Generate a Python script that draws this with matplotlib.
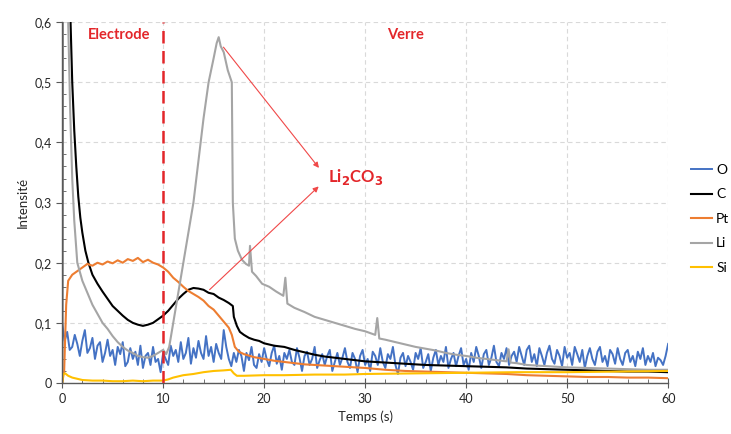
import matplotlib.pyplot as plt
import numpy as np
from matplotlib.ticker import MultipleLocator, FuncFormatter

plt.rcParams['font.family'] = ['Lato', 'DejaVu Sans']

# O : signal bruité, pas de 0,25 s
t_o = np.arange(0, 60.01, 0.25)
o = [0.10, 0.07, 0.085, 0.055, 0.06, 0.08, 0.065, 0.045, 0.07, 0.088, 0.05, 0.058, 0.075, 0.04, 0.062, 0.068, 0.035, 0.05, 0.072, 0.045,
     0.055, 0.03, 0.06, 0.048, 0.068, 0.028, 0.035, 0.058, 0.04, 0.052, 0.03, 0.062, 0.025, 0.045, 0.05, 0.03, 0.06, 0.035, 0.04, 0.018,
     0.05, 0.04, 0.03, 0.062, 0.045, 0.055, 0.035, 0.068, 0.04, 0.05, 0.075, 0.032, 0.058, 0.042, 0.07, 0.05, 0.04, 0.078, 0.045, 0.06,
     0.035, 0.065, 0.05, 0.04, 0.088, 0.06, 0.04, 0.028, 0.05, 0.035, 0.055, 0.045, 0.02, 0.05, 0.038, 0.06, 0.03, 0.025, 0.048, 0.035,
     0.058, 0.04, 0.028, 0.05, 0.062, 0.032, 0.045, 0.022, 0.05, 0.04, 0.055, 0.035, 0.03, 0.058, 0.042, 0.02, 0.045, 0.052, 0.03, 0.04,
     0.06, 0.025, 0.038, 0.048, 0.03, 0.045, 0.055, 0.02, 0.035, 0.05, 0.03, 0.042, 0.058, 0.035, 0.025, 0.05, 0.04, 0.018, 0.045, 0.055,
     0.03, 0.04, 0.02, 0.052, 0.045, 0.03, 0.058, 0.035, 0.025, 0.048, 0.04, 0.06, 0.03, 0.015, 0.042, 0.05, 0.028, 0.045, 0.035, 0.022,
     0.05, 0.04, 0.058, 0.025, 0.035, 0.048, 0.02, 0.042, 0.055, 0.03, 0.045, 0.035, 0.06, 0.025, 0.04, 0.05, 0.028, 0.045, 0.058, 0.03,
     0.04, 0.022, 0.05, 0.035, 0.06, 0.045, 0.025, 0.048, 0.055, 0.03, 0.042, 0.062, 0.035, 0.028, 0.05, 0.04, 0.058, 0.03, 0.045, 0.052,
     0.035, 0.06, 0.045, 0.03, 0.055, 0.062, 0.035, 0.048, 0.028, 0.058, 0.045, 0.03, 0.05, 0.062, 0.04, 0.032, 0.055, 0.045, 0.028, 0.06,
     0.042, 0.05, 0.03, 0.06, 0.048, 0.035, 0.055, 0.025, 0.045, 0.058, 0.04, 0.03, 0.052, 0.06, 0.035, 0.045, 0.028, 0.055, 0.048, 0.032,
     0.058, 0.04, 0.03, 0.05, 0.055, 0.035, 0.045, 0.028, 0.052, 0.04, 0.058, 0.03, 0.045, 0.035, 0.05, 0.028, 0.042, 0.038, 0.03, 0.045,
     0.065]

t_c = [0, 0.1, 0.5, 0.8, 1.0, 1.2, 1.4, 1.6, 1.8, 2.0, 2.3, 2.6, 3.0, 3.5, 4.0, 4.5, 5.0, 5.5, 6.0, 6.5,
       7.0, 7.5, 8.0, 8.5, 9.0, 9.5, 10, 10.5, 11, 11.5, 12, 12.5, 13, 13.5, 14, 14.5, 15, 15.5, 16, 16.5,
       16.9, 17.0, 17.3, 17.6, 18, 18.5, 19, 19.5, 20, 21, 22, 23, 24, 25, 26, 27, 28, 29, 30, 32,
       34, 36, 38, 40, 42, 44, 46, 48, 50, 52, 54, 56, 58, 60]
c = [0, 0.9, 0.8, 0.62, 0.5, 0.42, 0.36, 0.31, 0.275, 0.25, 0.22, 0.2, 0.18, 0.165, 0.152, 0.14, 0.128, 0.12, 0.112, 0.105,
     0.1, 0.097, 0.095, 0.097, 0.1, 0.106, 0.112, 0.12, 0.13, 0.14, 0.148, 0.155, 0.158, 0.157, 0.155, 0.15, 0.148, 0.142, 0.138, 0.133,
     0.128, 0.11, 0.095, 0.085, 0.08, 0.075, 0.072, 0.07, 0.066, 0.062, 0.06, 0.055, 0.051, 0.047, 0.044, 0.042, 0.04, 0.038, 0.036, 0.034,
     0.032, 0.03, 0.029, 0.028, 0.027, 0.026, 0.024, 0.023, 0.022, 0.021, 0.02, 0.019, 0.019, 0.018]

t_pt = [0, 0.2, 0.4, 0.6, 1, 1.5, 2, 2.5, 3, 3.5, 4, 4.5, 5, 5.5, 6, 6.5, 7, 7.5, 8, 8.5,
        9, 9.5, 10, 10.5, 11, 11.5, 12, 12.5, 13, 13.5, 14, 14.5, 15, 15.5, 16, 16.5, 16.8, 17.1, 17.5, 18,
        19, 20, 21, 22, 23, 24, 25, 26, 28, 30, 32, 34, 36, 38, 40, 42, 44, 46, 48, 50,
        52, 54, 56, 58, 60]
pt = [0, 0.02, 0.13, 0.17, 0.18, 0.186, 0.192, 0.198, 0.195, 0.2, 0.197, 0.202, 0.199, 0.204, 0.2, 0.206, 0.203, 0.208, 0.201, 0.205,
      0.2, 0.197, 0.192, 0.185, 0.175, 0.168, 0.16, 0.153, 0.148, 0.143, 0.137, 0.128, 0.122, 0.112, 0.102, 0.092, 0.08, 0.06, 0.052, 0.048,
      0.043, 0.04, 0.037, 0.035, 0.033, 0.031, 0.03, 0.029, 0.027, 0.025, 0.022, 0.02, 0.019, 0.018, 0.017, 0.016, 0.015, 0.013, 0.012, 0.011,
      0.01, 0.01, 0.009, 0.009, 0.008]

t_li = [0, 0.1, 0.4, 0.6, 0.8, 1.0, 1.2, 1.5, 2.0, 2.5, 3.0, 3.5, 4.0, 4.5, 5.0, 5.5, 6, 6.5, 7, 7.5,
        8, 8.5, 9, 9.5, 10, 10.3, 10.6, 11, 11.5, 12, 12.5, 13, 13.5, 14, 14.5, 15, 15.3, 15.5, 15.7, 16,
        16.4, 16.8, 16.9, 17.1, 17.4, 17.8, 18.2, 18.5, 18.6, 18.8, 19.2, 19.8, 20.5, 21.2, 21.9, 22.1, 22.3, 23, 24, 25,
        26, 27, 28, 29, 30, 31, 31.2, 31.4, 32, 33, 34, 35, 36, 37, 38, 39, 40, 41, 42, 43,
        44, 44.2, 44.4, 45, 46, 47, 48, 50, 52, 54, 56, 58, 60]
li = [0, 0.9, 0.8, 0.6, 0.45, 0.34, 0.27, 0.2, 0.17, 0.15, 0.13, 0.115, 0.1, 0.09, 0.078, 0.068, 0.06, 0.054, 0.05, 0.045,
      0.043, 0.042, 0.045, 0.05, 0.055, 0.048, 0.06, 0.1, 0.15, 0.2, 0.25, 0.3, 0.37, 0.44, 0.5, 0.54, 0.565, 0.575, 0.56, 0.55,
      0.52, 0.5, 0.3, 0.24, 0.22, 0.205, 0.198, 0.195, 0.228, 0.185, 0.178, 0.165, 0.16, 0.152, 0.145, 0.175, 0.132, 0.125, 0.118, 0.11,
      0.105, 0.1, 0.095, 0.09, 0.086, 0.08, 0.108, 0.074, 0.072, 0.068, 0.064, 0.06, 0.057, 0.054, 0.05, 0.047, 0.045, 0.042, 0.04, 0.038,
      0.036, 0.056, 0.034, 0.033, 0.03, 0.029, 0.028, 0.026, 0.025, 0.024, 0.023, 0.022, 0.022]

t_si = [0, 0.1, 0.3, 0.6, 1, 1.5, 2, 3, 4, 5, 6, 7, 8, 9, 10, 10.5, 11, 11.5, 12, 13,
        14, 15, 16, 16.7, 17, 17.3, 18, 20, 22, 25, 28, 30, 35, 40, 45, 50, 55, 60]
si = [0, 0.015, 0.016, 0.012, 0.009, 0.007, 0.005, 0.004, 0.004, 0.003, 0.003, 0.004, 0.003, 0.004, 0.004, 0.006, 0.009, 0.011, 0.013, 0.015,
      0.018, 0.02, 0.021, 0.022, 0.016, 0.012, 0.012, 0.013, 0.013, 0.014, 0.014, 0.015, 0.016, 0.017, 0.018, 0.018, 0.019, 0.02]

fig = plt.figure(figsize=(7.31, 4.34), dpi=100)
ax = fig.add_axes([0.085, 0.1175, 0.829, 0.8315])

ax.plot(t_o, o, color='#4472C4', lw=1.4, label='O')
ax.plot(t_c, c, color='black', lw=1.5, label='C')
ax.plot(t_pt, pt, color='#ED7D31', lw=1.5, label='Pt')
ax.plot(t_li, li, color='#A5A5A5', lw=1.5, label='Li')
ax.plot(t_si, si, color='#FFC000', lw=1.5, label='Si')

ax.axvline(10, color='#E3262A', lw=1.8, ls=(0, (5, 3)), zorder=5)

ax.set_xlim(0, 60)
ax.set_ylim(0, 0.6)
ax.xaxis.set_major_locator(MultipleLocator(10))
ax.xaxis.set_minor_locator(MultipleLocator(2))
ax.yaxis.set_major_locator(MultipleLocator(0.1))
ax.yaxis.set_minor_locator(MultipleLocator(0.02))
ax.yaxis.set_major_formatter(FuncFormatter(lambda v, p: '0' if abs(v) < 1e-9 else f'{v:.1f}'.replace('.', ',')))
ax.grid(True, which='major', color='#D9D9D9', ls=(0, (4, 3)), lw=0.8)
ax.set_axisbelow(True)

for s in ['top', 'right']:
    ax.spines[s].set_visible(False)
for s in ['left', 'bottom']:
    ax.spines[s].set_color('#595959')
    ax.spines[s].set_linewidth(1.0)

ax.tick_params(axis='both', which='major', labelsize=9, colors='#595959', labelcolor='#262626')
ax.tick_params(axis='x', which='major', direction='inout', length=7)
ax.tick_params(axis='y', which='major', direction='out', length=4)
ax.tick_params(axis='both', which='minor', direction='in', length=3, colors='#595959')

ax.set_xlabel('Temps (s)', fontsize=9.5, color='#262626')
ax.set_ylabel('Intensité', fontsize=9.5, color='#262626')

ax.text(2.5, 0.578, 'Electrode', color='#E3262A', fontsize=10.5, fontweight='bold', va='center')
ax.text(34, 0.578, 'Verre', color='#E3262A', fontsize=10.5, fontweight='bold', va='center', ha='center')
ax.text(26.3, 0.342, 'Li$_\\mathbf{2}$CO$_\\mathbf{3}$', color='#E3262A', fontsize=12, fontweight='bold', va='center')

arrow = dict(arrowstyle='-|>', color='#F04848', lw=0.8, mutation_scale=8)
ax.annotate('', xy=(25.6, 0.354), xytext=(15.8, 0.562), arrowprops=arrow)
ax.annotate('', xy=(25.6, 0.33), xytext=(14.4, 0.152), arrowprops=arrow)

fig.legend(loc='upper left', bbox_to_anchor=(0.938, 0.635), frameon=False, fontsize=10,
           handlelength=1.5, handletextpad=0.3, labelspacing=0.9, borderaxespad=0)

fig.savefig('out.png', dpi=100)
